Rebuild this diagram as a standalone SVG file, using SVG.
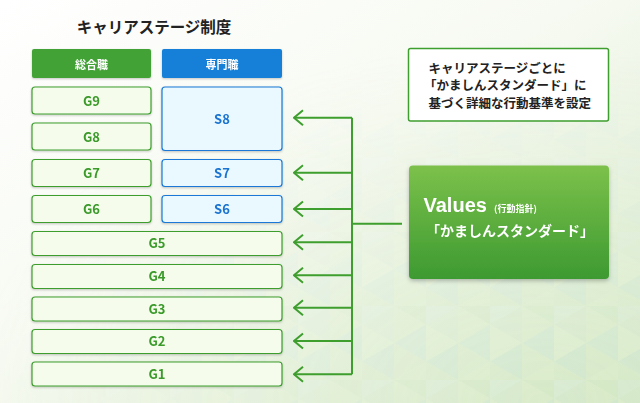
<svg xmlns="http://www.w3.org/2000/svg" width="640" height="403" viewBox="0 0 640 403">
<defs>
<linearGradient id="bg" x1="0" y1="0" x2="1" y2="1">
<stop offset="0" stop-color="#ffffff"/>
<stop offset="0.45" stop-color="#f7faf2"/>
<stop offset="1" stop-color="#dcecd0"/>
</linearGradient>
<radialGradient id="fadeM" cx="0.85" cy="1" r="0.9">
<stop offset="0" stop-color="#fff" stop-opacity="1"/>
<stop offset="0.7" stop-color="#fff" stop-opacity="0.35"/>
<stop offset="1" stop-color="#fff" stop-opacity="0"/>
</radialGradient>
<mask id="tmask"><rect width="640" height="403" fill="url(#fadeM)"/></mask>
<pattern id="tri" width="64" height="74" patternUnits="userSpaceOnUse" x="10" y="10">
<polygon points="0,0 32,0 32,18.5" fill="#a8d48a" fill-opacity="0.18"/>
<polygon points="0,0 32,18.5 0,37" fill="#c9e4a8" fill-opacity="0.22"/>
<polygon points="0,37 32,18.5 32,55.5" fill="#9fd0b8" fill-opacity="0.2"/>
<polygon points="0,37 32,55.5 0,74" fill="#b5dc96" fill-opacity="0.16"/>
<polygon points="0,74 32,55.5 32,74" fill="#cde6b0" fill-opacity="0.25"/>
<polygon points="32,0 64,0 32,18.5" fill="#bfe0c8" fill-opacity="0.2"/>
<polygon points="64,0 32,18.5 64,37" fill="#a6d2a0" fill-opacity="0.14"/>
<polygon points="64,37 32,18.5 32,55.5" fill="#d2e8b8" fill-opacity="0.24"/>
<polygon points="64,37 32,55.5 64,74" fill="#98cbb0" fill-opacity="0.18"/>
<polygon points="64,74 32,55.5 32,74" fill="#b8dca0" fill-opacity="0.2"/>
</pattern>
<linearGradient id="vg" x1="0" y1="0" x2="0" y2="1">
<stop offset="0" stop-color="#7cc14b"/>
<stop offset="1" stop-color="#3d9a31"/>
</linearGradient>
<filter id="sh" x="-10%" y="-20%" width="120%" height="150%">
<feDropShadow dx="0" dy="1" stdDeviation="0.8" flood-color="#000" flood-opacity="0.22"/>
</filter>
<filter id="sh2" x="-10%" y="-10%" width="120%" height="130%">
<feDropShadow dx="0" dy="2" stdDeviation="2" flood-color="#000" flood-opacity="0.25"/>
</filter>
<marker id="ah" viewBox="0 0 12 18" refX="10.5" refY="9" markerWidth="12" markerHeight="18" markerUnits="userSpaceOnUse" orient="auto">
<polyline points="1.5,1.5 10.5,9 1.5,16.5" fill="none" stroke="#3e9e2e" stroke-width="2"/>
</marker>
</defs>
<style>
text{font-family:"Noto Sans CJK JP","Noto Sans",sans-serif;font-weight:700}
.hd{fill:#fff;font-size:11px;text-anchor:middle}
.g rect{fill:#f5fcec;stroke:#3e9e2e;stroke-width:1.2}
.g text{fill:#3a9a2a;font-size:13px;text-anchor:middle}
.s rect{fill:#e9f9ff;stroke:#1a78d6;stroke-width:1.2}
.s text{fill:#1a73d0;font-size:13px;text-anchor:middle}
.cn{fill:none;stroke:#3e9e2e;stroke-width:2}
.nt{fill:#222;font-size:12.5px}
.vw{fill:#fff}
</style>
<rect width="640" height="403" fill="url(#bg)"/>
<rect width="640" height="403" fill="url(#tri)" mask="url(#tmask)"/>

<text x="154" y="33" font-size="15.5" fill="#222" text-anchor="middle">キャリアステージ制度</text>

<g id="header-general" filter="url(#sh)"><rect x="32" y="49" width="119" height="29" rx="2" fill="#43a236"/><text class="hd" x="91.5" y="68.5">総合職</text></g>
<g id="header-specialist" filter="url(#sh)"><rect x="162" y="49" width="120" height="29" rx="2" fill="#1380d9"/><text class="hd" x="222" y="68.5">専門職</text></g>

<g id="G9" class="g" filter="url(#sh)"><rect x="32" y="87" width="119" height="27" rx="3"/><text x="91.5" y="105.5">G9</text></g>
<g id="G8" class="g" filter="url(#sh)"><rect x="32" y="123" width="119" height="27" rx="3"/><text x="91.5" y="141.5">G8</text></g>
<g id="G7" class="g" filter="url(#sh)"><rect x="32" y="159.5" width="119" height="27" rx="3"/><text x="91.5" y="178">G7</text></g>
<g id="G6" class="g" filter="url(#sh)"><rect x="32" y="195.5" width="119" height="27" rx="3"/><text x="91.5" y="214">G6</text></g>
<g id="S8" class="s" filter="url(#sh)"><rect x="162" y="87" width="120" height="63.5" rx="3"/><text x="222" y="123.5">S8</text></g>
<g id="S7" class="s" filter="url(#sh)"><rect x="162" y="159.5" width="120" height="27" rx="3"/><text x="222" y="178">S7</text></g>
<g id="S6" class="s" filter="url(#sh)"><rect x="162" y="195.5" width="120" height="27" rx="3"/><text x="222" y="214">S6</text></g>
<g id="G5" class="g" filter="url(#sh)"><rect x="32" y="231.5" width="250" height="24" rx="3"/><text x="157" y="248">G5</text></g>
<g id="G4" class="g" filter="url(#sh)"><rect x="32" y="264.5" width="250" height="24" rx="3"/><text x="157" y="281">G4</text></g>
<g id="G3" class="g" filter="url(#sh)"><rect x="32" y="297" width="250" height="24" rx="3"/><text x="157" y="313.5">G3</text></g>
<g id="G2" class="g" filter="url(#sh)"><rect x="32" y="329.5" width="250" height="24" rx="3"/><text x="157" y="346">G2</text></g>
<g id="G1" class="g" filter="url(#sh)"><rect x="32" y="362" width="250" height="24" rx="3"/><text x="157" y="378.5">G1</text></g>

<g id="note">
<rect x="408.5" y="48.5" width="200" height="72.5" rx="2" fill="#fff" stroke="#3e9e2e" stroke-width="1.5"/>
<text class="nt" x="428.5" y="72.5">キャリアステージごとに</text>
<text class="nt" x="424" y="90">「かましんスタンダード」に</text>
<text class="nt" x="428.5" y="107.5">基づく詳細な行動基準を設定</text>
</g>

<g id="values" filter="url(#sh2)">
<rect x="409" y="165.5" width="200" height="113.5" rx="4" fill="url(#vg)"/>
<text class="vw" x="423.5" y="211.7" font-size="20" style="font-family:'Liberation Sans',Arial,sans-serif">Values</text>
<text class="vw" x="494" y="212" font-size="9">(行動指針)</text>
<text class="vw" x="426" y="235.5" font-size="14">「かましんスタンダード」</text>
</g>

<g id="connectors" class="cn">
<path d="M402,223.7 H352"/>
<path d="M352,117.7 V374.3"/>
<path d="M352,117.7 H294" marker-end="url(#ah)"/>
<path d="M352,172.7 H294" marker-end="url(#ah)"/>
<path d="M352,209 H294" marker-end="url(#ah)"/>
<path d="M352,242.3 H294" marker-end="url(#ah)"/>
<path d="M352,275.3 H294" marker-end="url(#ah)"/>
<path d="M352,307.7 H294" marker-end="url(#ah)"/>
<path d="M352,341 H294" marker-end="url(#ah)"/>
<path d="M352,374.3 H294" marker-end="url(#ah)"/>
</g>
</svg>
